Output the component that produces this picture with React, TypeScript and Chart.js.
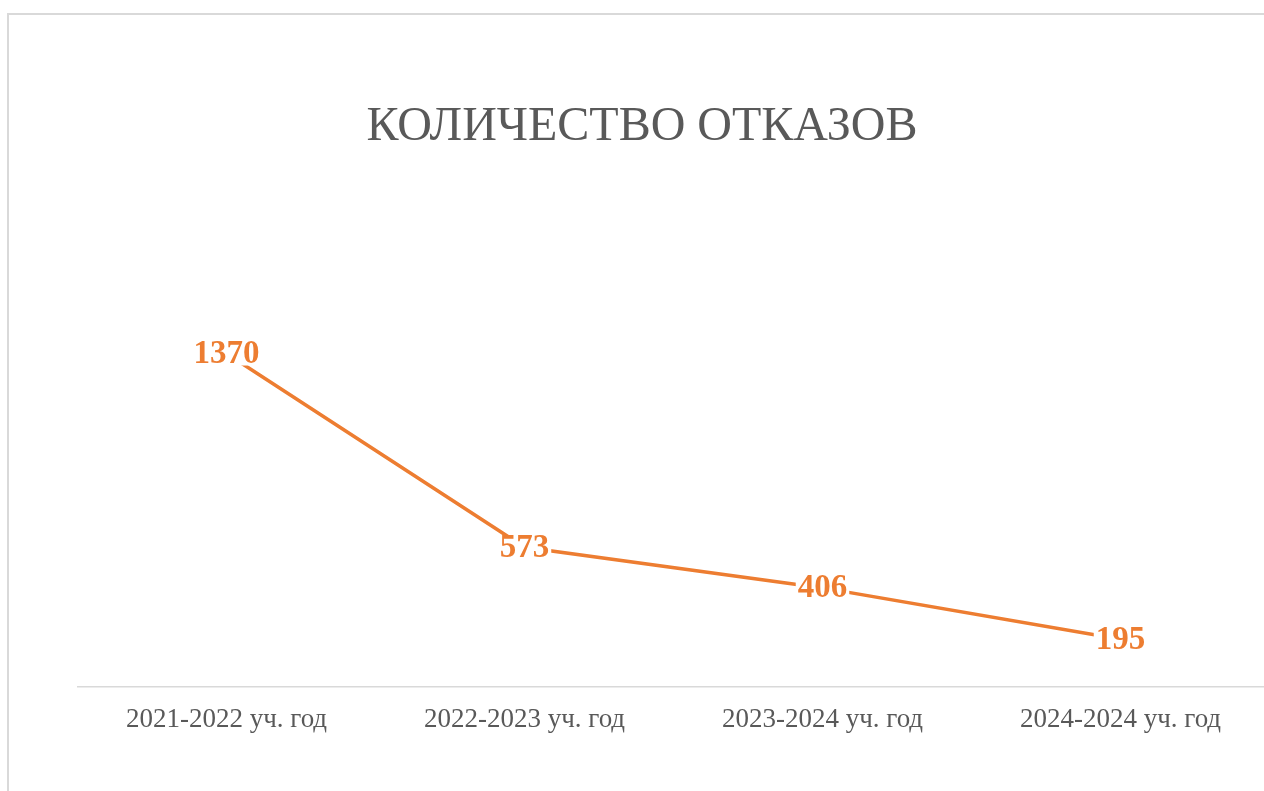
import React, { useEffect, useRef } from "react";
import { Chart, registerables } from "chart.js";

Chart.register(...registerables);

const categories = [
  "2021-2022 уч. год",
  "2022-2023 уч. год",
  "2023-2024 уч. год",
  "2024-2024 уч. год",
];
const refusals = [1370, 573, 406, 195];
const chartTitle = "КОЛИЧЕСТВО ОТКАЗОВ";
const yMin = 0;
const yMax = 1600;

const ORANGE = "#ED7D31";
const GRAY_TEXT = "#595959";
const SERIF = '"Liberation Serif", "Times New Roman", serif';

const labelPlugin = {
  id: "centerLabels",
  afterDatasetsDraw(chart: any) {
    const ctx = chart.ctx;
    const meta = chart.getDatasetMeta(0);
    const data = chart.data.datasets[0].data as number[];
    ctx.save();
    ctx.font = `bold 33px ${SERIF}`;
    ctx.textAlign = "center";
    ctx.textBaseline = "middle";
    meta.data.forEach((pt: any, i: number) => {
      const text = String(data[i]);
      const w = ctx.measureText(text).width;
      ctx.fillStyle = "#ffffff";
      ctx.fillRect(pt.x - w / 2 - 2, pt.y - 12, w + 4, 24);
      ctx.fillStyle = ORANGE;
      ctx.fillText(text, pt.x, pt.y + 1);
    });
    ctx.restore();
  },
};

const hiddenAxis = (width: number, position: "left" | "right") => ({
  position,
  display: true,
  grid: { display: false, drawTicks: false },
  border: { display: false },
  ticks: { display: false },
  afterFit: (scale: any) => {
    scale.width = width;
  },
});

export default function App() {
  const canvasRef = useRef<HTMLCanvasElement | null>(null);

  useEffect(() => {
    if (!canvasRef.current) return;
    const chart = new Chart(canvasRef.current, {
      type: "line",
      data: {
        labels: categories,
        datasets: [
          {
            data: refusals,
            yAxisID: "y",
            borderColor: ORANGE,
            backgroundColor: ORANGE,
            borderWidth: 3.5,
            pointRadius: 0,
            pointHoverRadius: 0,
            tension: 0,
            fill: false,
          },
        ],
      },
      options: {
        animation: false,
        responsive: false,
        maintainAspectRatio: false,
        layout: { padding: { left: 0, right: 0, top: 0, bottom: 24 } },
        plugins: {
          legend: { display: false },
          tooltip: { enabled: false },
          title: {
            display: true,
            text: chartTitle,
            color: GRAY_TEXT,
            font: { family: SERIF, size: 48, weight: "normal", lineHeight: 1.2 },
            padding: { top: 84, bottom: 141 },
          },
        },
        scales: {
          x: {
            type: "category",
            offset: true,
            grid: { display: false, drawTicks: false },
            border: { display: true, color: "#d9d9d9", width: 1.5 },
            ticks: {
              color: GRAY_TEXT,
              font: { family: SERIF, size: 27 },
              padding: 17,
              maxRotation: 0,
              autoSkip: false,
            },
          },
          y: {
            ...hiddenAxis(68.5, "left"),
            min: yMin,
            max: yMax,
          },
          yRight: {
            ...hiddenAxis(5.5, "right"),
            min: yMin,
            max: yMax,
          },
        },
      },
      plugins: [labelPlugin],
    });
    return () => chart.destroy();
  }, []);

  return (
    <div
      style={{
        position: "fixed",
        left: 0,
        top: 0,
        width: 1264,
        height: 791,
        overflow: "hidden",
        background: "#ffffff",
      }}
    >
      <div
        style={{
          position: "absolute",
          left: 7,
          top: 13,
          width: 1266,
          height: 800,
          border: "2px solid #d9d9d9",
          background: "#ffffff",
        }}
      >
        <canvas
          ref={canvasRef}
          width={1266}
          height={762}
          style={{ display: "block", width: 1266, height: 762 }}
        />
      </div>
    </div>
  );
}
